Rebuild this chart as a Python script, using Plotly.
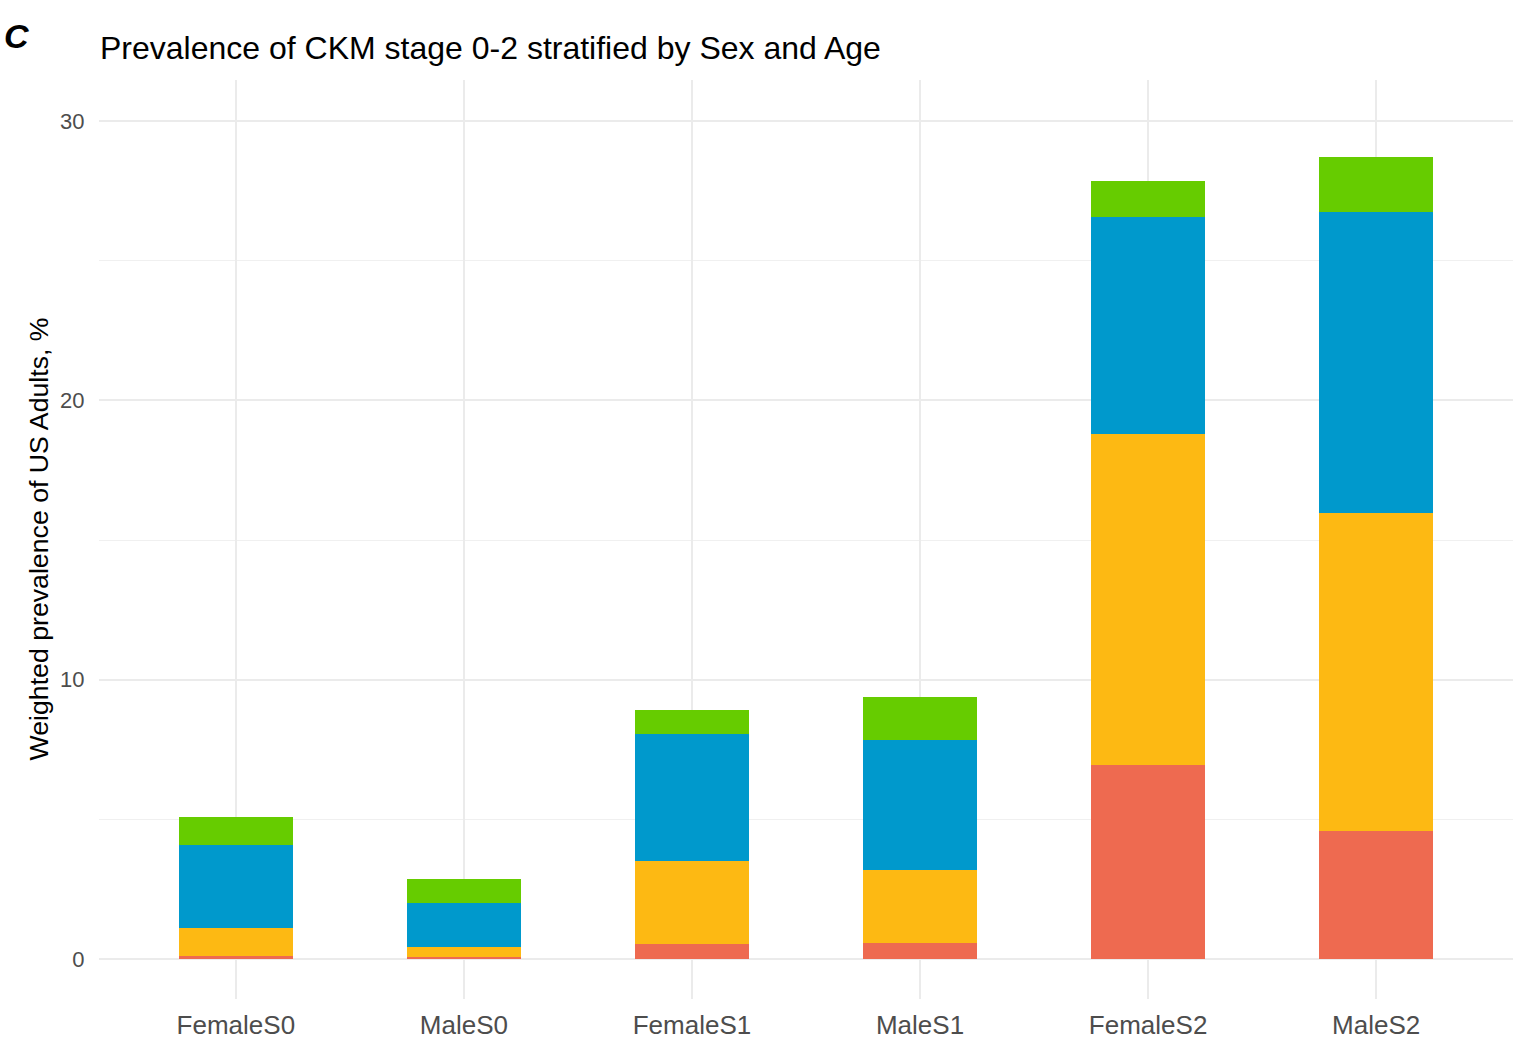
import plotly.graph_objects as go

categories = ["FemaleS0", "MaleS0", "FemaleS1", "MaleS1", "FemaleS2", "MaleS2"]
stage_names = ["Group 1", "Group 2", "Group 3", "Group 4"]
red_vals = [0.09, 0.05, 0.53, 0.55, 6.95, 4.59]
orange_vals = [1.00, 0.39, 2.99, 2.63, 11.85, 11.39]
blue_vals = [3.00, 1.56, 4.52, 4.66, 7.77, 10.77]
green_vals = [1.00, 0.85, 0.87, 1.54, 1.29, 1.97]
colors = ["#EE6A50", "#FDB913", "#0099CC", "#66CC00"]
y_ticks = [0, 10, 20, 30]

FONT = "Liberation Sans, Arial, sans-serif"
W, H = 1513, 1049
L, R, T, B = 99, 0, 80, 50
PW, PH = W - L - R, H - T - B

fig = go.Figure()
for name, vals, col in zip(stage_names, [red_vals, orange_vals, blue_vals, green_vals], colors):
    fig.add_trace(go.Bar(x=categories, y=vals, name=name, marker=dict(color=col, line=dict(width=0)),
                         width=0.5, showlegend=False))

fig.update_layout(
    barmode="stack",
    width=W, height=H,
    margin=dict(l=L, r=R, t=T, b=B),
    paper_bgcolor="white", plot_bgcolor="white",
    font=dict(family=FONT, color="#4d4d4d"),
    title=dict(text="Prevalence of CKM stage 0-2 stratified by Sex and Age", x=100/W, xanchor="left",
               y=1-48/H, yanchor="middle", font=dict(size=32, color="black", family=FONT)),
    xaxis=dict(range=[-0.6, 5.6], showgrid=True, gridcolor="#EBEBEB", gridwidth=2,
               ticks="outside", ticklen=3, tickcolor="rgba(0,0,0,0)", showline=False, zeroline=False,
               tickfont=dict(size=26, color="#4d4d4d"), automargin=False),
    yaxis=dict(range=[-1.44, 31.48], tickvals=y_ticks, showgrid=True, gridcolor="#EBEBEB", gridwidth=2,
               minor=dict(tickvals=[5, 15, 25], showgrid=True, gridcolor="#F0F0F0", gridwidth=1.2),
               ticks="outside", ticklen=9, tickcolor="rgba(0,0,0,0)", showline=False, zeroline=False,
               tickfont=dict(size=22, color="#4d4d4d"), automargin=False),
    annotations=[
        dict(text="Weighted prevalence of US Adults, %", textangle=-90, x=(38-L)/PW, y=0.5,
             xref="paper", yref="paper", showarrow=False, font=dict(size=26.7, color="black", family=FONT),
             xanchor="center", yanchor="middle"),
        dict(text="<b><i>C</i></b>", x=(2-L)/PW, y=(H-B-36)/PH, xref="paper", yref="paper", showarrow=False,
             xanchor="left", yanchor="middle", font=dict(size=34, color="black", family=FONT)),
    ],
)
fig.write_html("out.html", config={"displayModeBar": False},
               post_script="document.body.style.margin='0';document.body.style.overflow='hidden';")
